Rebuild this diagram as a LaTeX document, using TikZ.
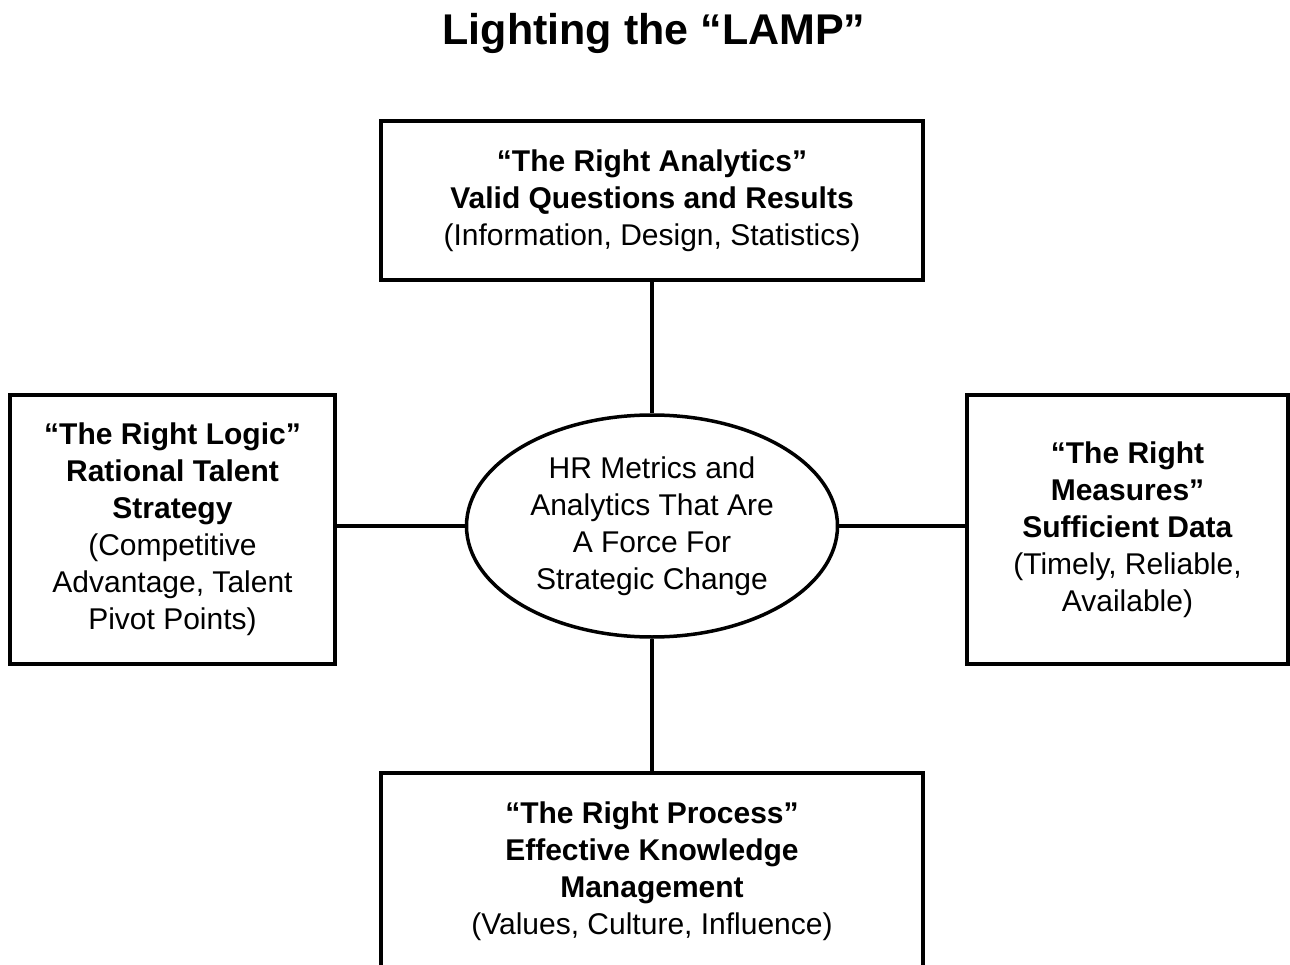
\documentclass[tikz,border=0pt]{standalone}
\usepackage{fontspec}
\setmainfont{Liberation Sans}
\usetikzlibrary{shapes.geometric}
\tikzset{
  box/.style={draw=black, line width=3.5pt, fill=white, inner sep=0pt, align=center,
    font=\fontsize{30}{37}\selectfont},
  oval/.style={ellipse, draw=black, line width=3.5pt, fill=white, inner sep=0pt, align=center,
    minimum width=371pt, minimum height=222pt, font=\fontsize{30}{37}\selectfont},
  link/.style={draw=black, line width=3.5pt},
  titletext/.style={font=\fontsize{43}{50}\selectfont\bfseries, inner sep=0pt}
}
\begin{document}
\begin{tikzpicture}[x=1pt, y=-1pt]
\useasboundingbox (0,0) rectangle (1290,965);
\clip (0,0) rectangle (1290,965);
\fill[white] (0,0) rectangle (1290,965);

\node[titletext] (title) at (654,33) {Lighting the “LAMP”};

\node[box, minimum width=542pt, minimum height=159pt] (top) at (652,200.5)
  {\textbf{“The Right Analytics”}\\ \textbf{Valid Questions and Results}\\ (Information, Design, Statistics)};

\node[box, minimum width=325pt, minimum height=269pt] (left) at (172.5,529.5)
  {\textbf{“The Right Logic”}\\ \textbf{Rational Talent}\\ \textbf{Strategy}\\ (Competitive\\ Advantage, Talent\\ Pivot Points)};

\node[box, minimum width=321pt, minimum height=269pt] (right) at (1127.5,529.5)
  {\textbf{“The Right}\\ \textbf{Measures”}\\ \textbf{Sufficient Data}\\ (Timely, Reliable,\\ Available)};

\node[box, minimum width=542pt, minimum height=196pt] (bottom) at (652,871)
  {\textbf{“The Right Process”}\\ \textbf{Effective Knowledge}\\ \textbf{Management}\\ (Values, Culture, Influence)};

\node[oval] (center) at (652,526)
  {HR Metrics and\\ Analytics That Are\\ A Force For\\ Strategic Change};

\draw[link] (top.south) -- (center.north);
\draw[link] (center.south) -- (bottom.north);
\draw[link] (left.east |- center.west) -- (center.west);
\draw[link] (center.east) -- (right.west |- center.east);
\end{tikzpicture}
\end{document}
